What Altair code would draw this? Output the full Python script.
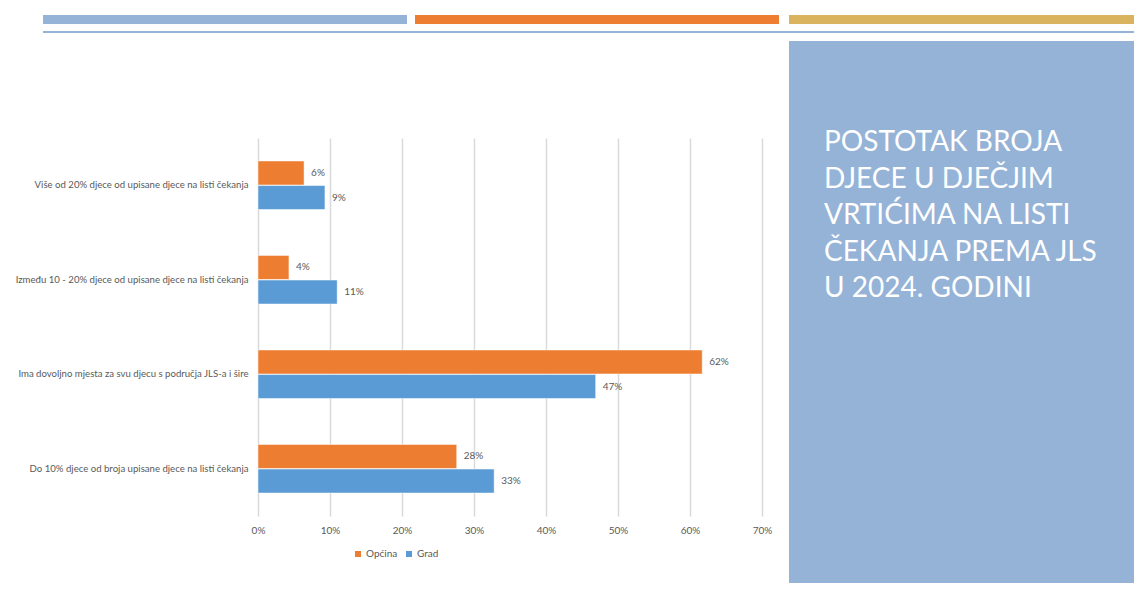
import altair as alt
import pandas as pd

categories = [
    "Više od 20% djece od upisane djece na listi čekanja",
    "Između 10 - 20% djece od upisane djece na listi čekanja",
    "Ima dovoljno mjesta za svu djecu s područja JLS-a i šire",
    "Do 10% djece od broja upisane djece na listi čekanja",
]
series = ["Općina", "Grad"]
opcina = [0.064, 0.043, 0.617, 0.276]
grad = [0.093, 0.110, 0.469, 0.328]
colors = ["#ED7D31", "#5B9BD5"]
title_lines = [
    "POSTOTAK BROJA",
    "DJECE U DJEČJIM",
    "VRTIĆIMA NA LISTI",
    "ČEKANJA PREMA JLS",
    "U 2024. GODINI",
]

rows = []
for c, o, g in zip(categories, opcina, grad):
    rows.append({"cat": c, "series": "Općina", "value": o})
    rows.append({"cat": c, "series": "Grad", "value": g})
df = pd.DataFrame(rows)

FONT = "Lato"
GRAY = "#595959"

y_enc = alt.Y("cat:N", sort=categories, title=None,
              scale=alt.Scale(paddingInner=0.48, paddingOuter=0.24),
              axis=alt.Axis(labelFont=FONT, labelFontSize=9.6, labelColor=GRAY,
                            labelLimit=400, labelPadding=10, ticks=False,
                            domain=False, grid=False))
yoff = alt.YOffset("series:N", sort=series, scale=alt.Scale(paddingInner=0, paddingOuter=0))
x_enc = alt.X("value:Q", title=None,
              scale=alt.Scale(domain=[0, 0.7], nice=False),
              axis=alt.Axis(format=".0%", values=[0, 0.1, 0.2, 0.3, 0.4, 0.5, 0.6, 0.7],
                            labelFont=FONT, labelFontSize=10, labelColor=GRAY,
                            labelPadding=9, labelFlush=False, ticks=False, domain=False,
                            grid=True, gridColor="#D9D9D9", gridWidth=1.5))

base = alt.Chart(df)

bars = base.mark_bar(size=24, stroke="white", strokeWidth=0.5).encode(
    y=y_enc, yOffset=yoff, x=x_enc,
    color=alt.Color("series:N", sort=series, title=None,
                    scale=alt.Scale(domain=series, range=colors),
                    legend=alt.Legend(orient="none", legendX=95, legendY=411,
                                      direction="horizontal", symbolType="square",
                                      symbolSize=36, labelFont=FONT, labelFontSize=10,
                                      labelColor=GRAY, columnPadding=6,
                                      labelOffset=3, symbolStrokeWidth=0)),
)

labels = base.mark_text(align="left", baseline="middle", dx=7, font=FONT,
                        fontSize=10, color=GRAY).encode(
    y=alt.Y("cat:N", sort=categories), yOffset=yoff,
    x=alt.X("value:Q"),
    text=alt.Text("value:Q", format=".0%"),
)

one = pd.DataFrame({"k": [0]})
deco_base = alt.Chart(one)

def rect(x1, x2, y1, y2, color):
    return deco_base.mark_rect(color=color, clip=False).encode(
        x=alt.value(x1), x2=alt.value(x2), y=alt.value(y1), y2=alt.value(y2))

# positions relative to plot origin (page x 258, y 138)
top_blue = rect(-215, 149, -123, -114, "#95B3D7")
top_orange = rect(157, 521, -123, -114, "#ED7D31")
top_gold = rect(531, 890, -123, -114, "#D9B35E")
thin_line = rect(-215, 890, -107, -105, "#95B3D7")
panel = rect(531, 890, -97, 460, "#95B3D7")

title = deco_base.mark_text(
    align="left", baseline="alphabetic", color="white", font=FONT,
    fontSize=28, lineBreak="\n", lineHeight=36.5, clip=False,
).encode(
    x=alt.value(566), y=alt.value(13),
    text=alt.value("\n".join(title_lines)),
)

chart = alt.layer(
    top_blue, top_orange, top_gold, thin_line, panel, title, bars, labels
).properties(
    width=504, height=378,
    padding={"left": 250, "top": 130, "right": 372, "bottom": 67},
    autosize=alt.AutoSizeParams(type="none"),
    background="white",
).configure_view(stroke=None)

chart.save("out.html", embed_options={"renderer": "svg", "actions": False})
